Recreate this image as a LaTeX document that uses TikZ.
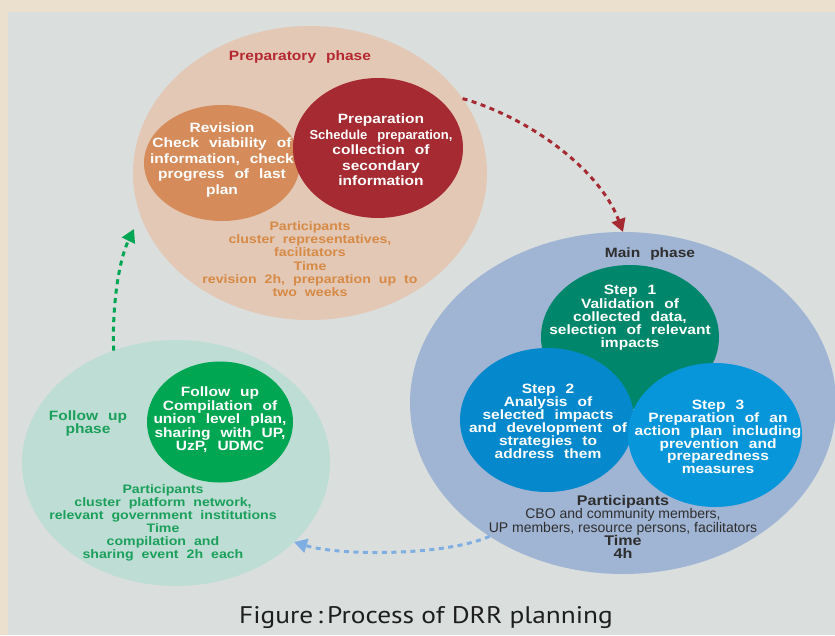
\documentclass[tikz,border=0pt]{standalone}
\usepackage{fontspec}
\setmainfont{Liberation Sans}
\newfontfamily\widesans{Liberation Sans}[FakeStretch=1.15]
\newfontfamily\capfont{PT Sans}[FakeStretch=1.14]
\usetikzlibrary{shapes.geometric,arrows.meta}

\definecolor{frame}{HTML}{EBE0CE}
\definecolor{panel}{HTML}{DADFDE}
\definecolor{prepbg}{HTML}{E3C8B5}
\definecolor{revfill}{HTML}{D58B5A}
\definecolor{prepfill}{HTML}{A52A32}
\definecolor{prephead}{HTML}{B5282F}
\definecolor{preptext}{HTML}{D68A45}
\definecolor{mainbg}{HTML}{A0B4D3}
\definecolor{stepone}{HTML}{00876B}
\definecolor{steptwo}{HTML}{0589CC}
\definecolor{stepthree}{HTML}{0896DB}
\definecolor{maintext}{HTML}{2E2E2E}
\definecolor{captext}{HTML}{1E1E1E}
\definecolor{fupbg}{HTML}{BEDDD5}
\definecolor{fupfill}{HTML}{00A651}
\definecolor{fuptext}{HTML}{1AA05A}
\definecolor{bluearrow}{HTML}{7EAEE2}

% bold stretched lettering with wide word gaps
\newcommand\bigfont[1]{\widesans\bfseries\fontsize{13.5}{#1}\selectfont\spaceskip 10pt\relax}
\newcommand\smallfont[1]{\widesans\bfseries\fontsize{12.3}{#1}\selectfont\spaceskip 8pt\relax}
\newcommand\hb[1]{{\widesans\bfseries #1}}

\tikzset{
  blob/.style={ellipse, inner sep=0pt, outer sep=0pt, draw=none},
  txt/.style={align=center, inner sep=0pt},
  flow/.style={line width=3pt, dash pattern=on 5pt off 4.5pt,
    -{Triangle[length=13pt,width=14pt]}},
}

\begin{document}
\begin{tikzpicture}[x=1pt,y=-1pt]
\useasboundingbox (0,0) rectangle (835,635);
\fill[frame] (0,0) rectangle (835,635);
\fill[panel] (8,12) rectangle (835,635);

% preparatory phase
\node[blob, fill=prepbg, minimum width=354pt, minimum height=294pt] (prep) at (310,173) {};
\node[blob, fill=revfill, minimum width=156pt, minimum height=116pt] (rev) at (222,163) {};
\node[blob, fill=prepfill, minimum width=170pt, minimum height=140pt] (prepc) at (378,148) {};
\node[txt, text=prephead, font=\bigfont{15.5}] (prephdr) at (300,57) {Preparatory phase};
\node[txt, text=white, font=\bigfont{15.5}] (revtxt) at (222,160) {Revision\\Check viability of\\information, check\\progress of last\\plan};
\node[txt, text=white, font=\bigfont{15.5}] (preptxt) at (381,150) {Preparation\\{\normalfont\bfseries\fontsize{13}{15.5}\selectfont Schedule preparation,}\\collection of\\secondary\\information};
\node[txt, text=preptext, font=\smallfont{13.2}] (preppart) at (310,259) {Participants\\cluster representatives,\\facilitators\\Time\\revision 2h, preparation up to\\two weeks};

% main phase
\node[blob, fill=mainbg, minimum width=426pt, minimum height=342pt] (main) at (623,403) {};
\node[blob, fill=stepone, minimum width=178pt, minimum height=144pt] (s1) at (630,337) {};
\node[blob, fill=steptwo, minimum width=174pt, minimum height=144pt] (s2) at (547,420) {};
\node[blob, fill=stepthree, minimum width=174pt, minimum height=144pt] (s3) at (715,435) {};
\node[txt, text=maintext, font=\bigfont{15.5}] (mainhdr) at (650,254) {Main phase};
\node[txt, text=white, font=\bigfont{13.2}] (s1txt) at (630,318) {Step 1\\Validation of\\collected data,\\selection of relevant\\impacts};
\node[txt, text=white, font=\bigfont{13}] (s2txt) at (548,421) {Step 2\\Analysis of\\selected impacts\\and development of\\strategies to\\address them};
\node[txt, text=white, font=\bigfont{12.8}] (s3txt) at (718,437) {Step 3\\Preparation of an\\action plan including\\prevention and\\preparedness\\measures};
\node[txt, text=maintext, font=\fontsize{14}{13.4}\selectfont] (mainpart) at (623,527)
  {\hb{Participants}\\CBO and community members,\\UP members, resource persons, facilitators\\\hb{Time}\\\hb{4h}};

% follow up phase
\node[blob, fill=fupbg, minimum width=308pt, minimum height=246pt] (fup) at (176,463) {};
\node[blob, fill=fupfill, minimum width=146pt, minimum height=121pt] (fupc) at (220,422) {};
\node[txt, text=fuptext, font=\bigfont{13}] (fuphdr) at (88,424) {Follow up\\phase};
\node[txt, text=white, font=\bigfont{13.5}] (fuptxt) at (220,420) {Follow up\\Compilation of\\union level plan,\\sharing with UP,\\UzP, UDMC};
\node[txt, text=fuptext, font=\smallfont{13}] (fuppart) at (163,523) {Participants\\cluster platform network,\\relevant government institutions\\Time\\compilation and\\sharing event 2h each};

% flow between phases
\coordinate (greentip) at (134,229);
\coordinate (bluetip) at (294,542);
\draw[flow, prepfill] (prep.26) .. controls (530,118) and (600,170) .. (main.north);
\draw[flow, bluearrow] (main.225) .. controls (445,556) and (340,556) .. (bluetip);
\draw[flow, fupfill] (fup.119) .. controls (112,310) and (118,262) .. (greentip);

% caption
\node[anchor=base, inner sep=0pt, text=captext, font=\capfont\fontsize{24}{28}\selectfont] (caption) at (426,623) {Figure\,:\,Process of DRR planning};
\end{tikzpicture}
\end{document}
